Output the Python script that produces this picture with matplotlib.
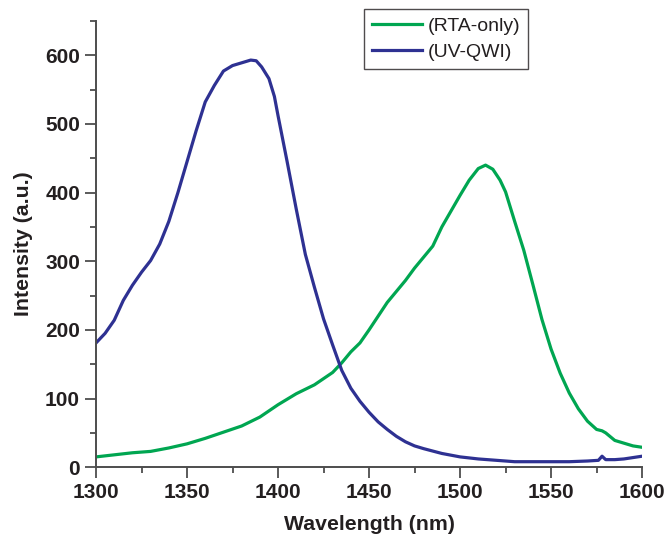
import numpy as np
import matplotlib
matplotlib.use('Agg')
import matplotlib.pyplot as plt
from matplotlib.ticker import MultipleLocator

plt.rcParams['font.family'] = ['Liberation Sans', 'DejaVu Sans']

# RTA-only spectrum
rta_wl = [1300, 1310, 1320, 1330, 1340, 1350, 1360, 1370, 1380, 1390,
          1400, 1410, 1420, 1430, 1435, 1440, 1445, 1450, 1455, 1460,
          1465, 1470, 1475, 1480, 1485, 1490, 1495, 1500, 1505, 1510,
          1514, 1518, 1522, 1525, 1530, 1535, 1540, 1545, 1550, 1555,
          1560, 1565, 1570, 1575, 1578, 1580, 1585, 1590, 1595, 1600]
rta_int = [15, 18, 21, 23, 28, 34, 42, 51, 60, 73,
           91, 107, 120, 138, 152, 168, 181, 200, 220, 240,
           256, 272, 290, 306, 322, 350, 373, 396, 418, 435,
           440, 434, 418, 401, 358, 316, 266, 215, 172, 137,
           108, 85, 67, 55, 53, 50, 39, 35, 31, 29]

# UV-QWI spectrum
uv_wl = [1300, 1305, 1310, 1315, 1320, 1325, 1330, 1335, 1340, 1345,
         1350, 1355, 1360, 1365, 1370, 1375, 1380, 1385, 1388, 1391,
         1395, 1398, 1400, 1405, 1410, 1415, 1420, 1425, 1430, 1435,
         1440, 1445, 1450, 1455, 1460, 1465, 1470, 1475, 1480, 1490,
         1500, 1510, 1520, 1530, 1540, 1550, 1560, 1570, 1576, 1578,
         1580, 1585, 1590, 1595, 1600]
uv_int = [181, 195, 214, 243, 265, 284, 301, 325, 358, 400,
          445, 490, 532, 556, 577, 585, 589, 593, 592, 583,
          566, 540, 512, 445, 376, 310, 262, 216, 178, 141,
          115, 96, 80, 66, 55, 45, 37, 31, 27, 20,
          15, 12, 10, 8, 8, 8, 8, 9, 10, 16,
          11, 11, 12, 14, 16]

green = '#00a651'
blue = '#2e3192'
axcol = '#4d4d4d'
txtcol = '#231f20'

fig = plt.figure(figsize=(6.64, 5.37), dpi=100)
ax = fig.add_axes([0.1446, 0.130, 0.8224, 0.831])

ax.plot(rta_wl, rta_int, color=green, linewidth=2.3, label='(RTA-only)')
ax.plot(uv_wl, uv_int, color=blue, linewidth=2.3, label='(UV-QWI)')

ax.set_xlim(1300, 1600)
ax.set_ylim(0, 650)
ax.xaxis.set_major_locator(MultipleLocator(50))
ax.xaxis.set_minor_locator(MultipleLocator(25))
ax.yaxis.set_major_locator(MultipleLocator(100))
ax.yaxis.set_minor_locator(MultipleLocator(50))

for s in ['top', 'right']:
    ax.spines[s].set_visible(False)
for s in ['left', 'bottom']:
    ax.spines[s].set_color(axcol)
    ax.spines[s].set_linewidth(1.4)

ax.tick_params(which='major', direction='out', length=8, width=1.3, color=axcol,
               labelsize=15, labelcolor=txtcol)
ax.tick_params(which='minor', direction='out', length=4.5, width=1.3, color=axcol)
for lab in ax.get_xticklabels() + ax.get_yticklabels():
    lab.set_fontweight('bold')

ax.set_xlabel('Wavelength (nm)', fontsize=15.3, fontweight='bold', color=txtcol, labelpad=9)
ax.set_ylabel('Intensity (a.u.)', fontsize=15.3, fontweight='bold', color=txtcol, labelpad=9)

leg = ax.legend(loc='upper left', bbox_to_anchor=(0.491, 1.026), fontsize=14,
                frameon=True, fancybox=False, handlelength=2.6, handletextpad=0.25,
                labelspacing=0.45, borderpad=0.4, borderaxespad=0)
leg.get_frame().set_edgecolor(txtcol)
leg.get_frame().set_linewidth(1.0)
for t in leg.get_texts():
    t.set_color(txtcol)

plt.savefig('out.png', dpi=100)
